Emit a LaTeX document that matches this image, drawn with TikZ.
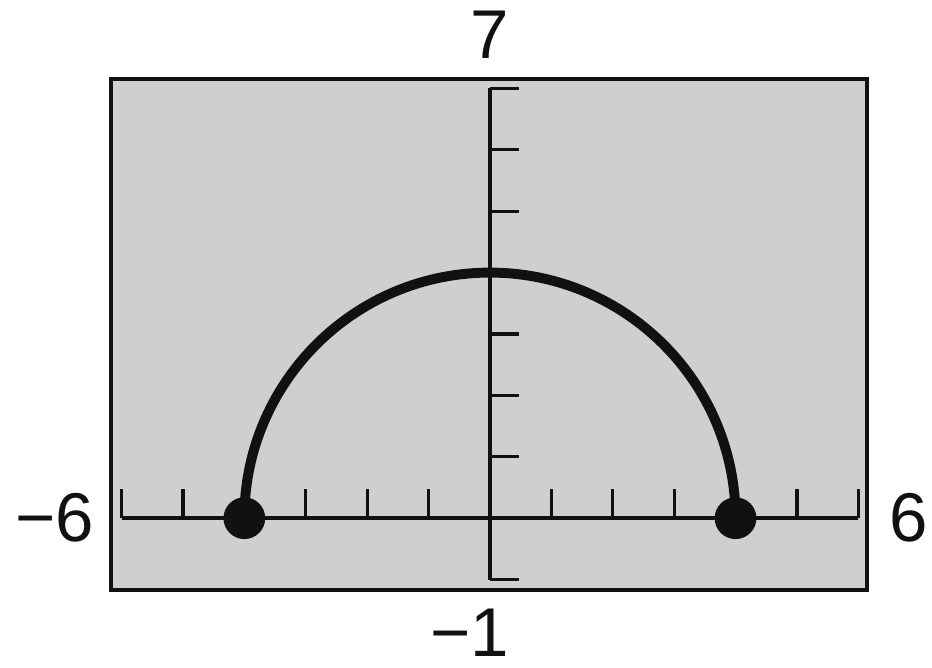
\documentclass[tikz,border=0pt]{standalone}
\usepackage{fontspec}
\setmainfont{Liberation Sans}
\usepackage{xcolor}
\definecolor{cInk}{HTML}{111111}
\definecolor{cScreen}{HTML}{CFCFCF}
\usepackage{tikz}
\usetikzlibrary{positioning,calc}
\tikzset{
  screen-box/.style={draw=cInk,line width=1.9pt,fill=cScreen},
  axis-line/.style={draw=cInk,line width=1.8pt},
  tick-line/.style={draw=cInk,line width=1.5pt},
  curve-line/.style={draw=cInk,line width=4.6pt},
  end-dot/.style={circle,fill=cInk,inner sep=0pt,minimum size=6.8mm},
  win-label/.style={font=\fontsize{32}{34}\selectfont,text=cInk,inner sep=0pt},
}

\begin{document}
\begin{tikzpicture}[x=1cm,y=1cm]
  \useasboundingbox (-7.98,-2.44) rectangle (7.2,8.44);
  % viewing window
  \draw[screen-box] (-6.17,-1.17) rectangle (6.14,7.15);
  \draw[axis-line] (-6,0) -- (6,0);
  \draw[axis-line] (0,-1) -- (0,7);
  \foreach \x in {-6,...,-1,1,2,...,6}
    \draw[tick-line] (\x,0) -- (\x,0.47);
  \foreach \y in {-1,1,2,...,7}
    \draw[tick-line] (0,\y) -- (0.47,\y);
  % y = sqrt(16 - x^2)
  \draw[curve-line] (-4,0) arc[start angle=180,end angle=0,radius=4];
  \node[end-dot] (dotL) at (-4,0) {};
  \node[end-dot] (dotR) at (4,0) {};
  % window labels
  \node[win-label] (yMax) at (0,7.88) {7};
  \node[win-label] (yMin) at (-0.33,-1.86) {−1};
  \node[win-label,anchor=east] (xMin) at (-6.44,0) {−6};
  \node[win-label,anchor=west] (xMax) at (6.5,0) {6};
\end{tikzpicture}
\end{document}
